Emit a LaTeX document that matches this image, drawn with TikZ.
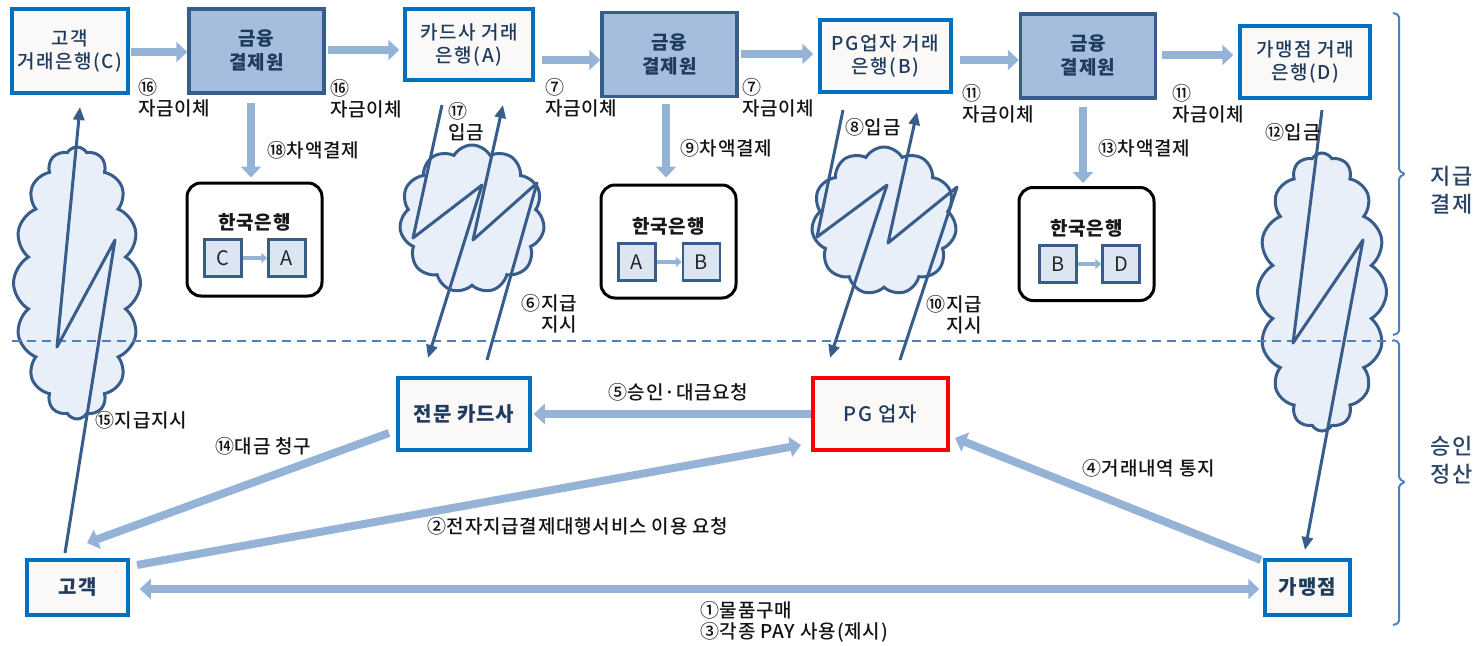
\documentclass[tikz,border=0pt]{standalone}
\usepackage{fontspec}
\setmainfont{Noto Sans CJK KR}[LetterSpace=5]
\newfontfamily\krmed{Noto Sans CJK KR Medium}[LetterSpace=8]
\newfontfamily\krlab{Noto Sans CJK KR Medium}[LetterSpace=4]
\usetikzlibrary{shapes.symbols,arrows.meta}
\definecolor{boxblue}{HTML}{0070C0}
\definecolor{boxfill}{HTML}{FBF9F7}
\definecolor{kfill}{HTML}{A5BEDD}
\definecolor{dk}{HTML}{385D8A}
\definecolor{lt}{HTML}{95B3D7}
\definecolor{cfill}{HTML}{E9EFF8}
\definecolor{sqfill}{HTML}{DCE6F2}
\definecolor{navy}{HTML}{1F3B5E}
\definecolor{dashc}{HTML}{4F81BD}
\definecolor{pgred}{HTML}{FF0000}
\definecolor{sidec}{HTML}{2A4468}
\begin{document}
\begin{tikzpicture}[x=1pt,y=-1pt,
 bank/.style={draw=boxblue,line width=3.5pt,fill=boxfill,text=navy,align=center,inner sep=0pt,font=\krmed\fontsize{19}{23}\selectfont},
 kftc/.style={draw=dk,line width=3.5pt,fill=kfill,text=navy,align=center,inner sep=0pt,font=\bfseries\fontsize{19}{24}\selectfont,minimum width=135pt,minimum height=84pt},
 bok/.style={draw=black,line width=3pt,rounded corners=14pt,fill=white,minimum width=135pt,minimum height=113pt,inner sep=0pt},
 bokt/.style={inner sep=0pt,font=\bfseries\fontsize{19}{20}\selectfont,text=black!90},
 sq/.style={draw=dk,line width=2.5pt,fill=sqfill,minimum size=37pt,inner sep=0pt,font=\fontsize{20}{20}\selectfont,text=black!85},
 fat/.style={draw=lt,line width=8pt,-{Triangle[length=11pt,width=20pt]}},
 fatboth/.style={draw=lt,line width=8pt,{Triangle[length=11pt,width=20pt]}-{Triangle[length=11pt,width=20pt]}},
 thinar/.style={draw=lt,line width=4pt,-{Triangle[length=6pt,width=10pt]}},
 bolt/.style={draw=dk,line width=3pt,line join=round,-{Triangle[length=13pt,width=11pt]}},
 cld/.style={cloud,cloud puffs=11,cloud puff arc=120,cloud ignores aspect,draw=dk,line width=3pt,fill=cfill,inner sep=0pt},
 lbl/.style={text=black!92,inner sep=0pt,font=\krlab\fontsize{19}{21}\selectfont},
]
\useasboundingbox (0,0) rectangle (1482,645);

% clouds
\node[cld,cloud puffs=16,minimum width=127pt,minimum height=272pt] (cl1) at (77,283) {};
\node[cld,minimum width=145pt,minimum height=148pt] (cl2) at (472,219) {};
\node[cld,minimum width=145pt,minimum height=148pt] (cl3) at (884,221) {};
\node[cld,cloud puffs=16,minimum width=129pt,minimum height=278pt] (cl4) at (1322,292) {};

% dashed separator
\draw[dashc,line width=2.5pt,dash pattern=on 9pt off 6pt] (12,341) -- (1393,341);

% bracket
\draw[dashc,line width=2pt,rounded corners=2pt] (1393,13) -- (1399,15) -- (1399,171) -- (1405,174) -- (1399,177) -- (1399,333) -- (1393,335);
\draw[dashc,line width=2pt,rounded corners=2pt] (1393,340) -- (1399,342) -- (1399,479) -- (1405,482) -- (1399,485) -- (1399,623) -- (1393,625);
\node[text=sidec,align=left,inner sep=0pt,font=\krmed\fontsize{22}{28}\selectfont] (side1) at (1452,190) {지급\\결제};
\node[text=sidec,align=left,inner sep=0pt,font=\krmed\fontsize{22}{28}\selectfont] (side2) at (1452,460) {승인\\정산};

% top row
\node[bank,minimum width=116pt,minimum height=84pt] (C) at (70,51) {고객\\거래은행(C)};
\node[kftc] (K1) at (256.5,51) {금융\\결제원};
\node[bank,minimum width=128pt,minimum height=71pt] (A) at (469,44.5) {카드사 거래\\은행(A)};
\node[kftc] (K2) at (669.5,54.5) {금융\\결제원};
\node[bank,minimum width=131pt,minimum height=72pt] (B) at (885.5,56) {PG업자 거래\\은행(B)};
\node[kftc] (K3) at (1088,56) {금융\\결제원};
\node[bank,minimum width=130pt,minimum height=72pt] (D) at (1305,62) {가맹점 거래\\은행(D)};

\draw[fat,shorten <=1pt] (C.east |- 0,52) -- (K1.west |- 0,52);
\draw[fat,shorten <=2pt,shorten >=4pt] (K1.east |- 0,50) -- (A.west |- 0,50);
\draw[fat,shorten <=7pt] (A.east |- 0,60) -- (K2.west |- 0,60);
\draw[fat,shorten <=2pt,shorten >=5pt] (K2.east |- 0,54) -- (B.west |- 0,54);
\draw[fat,shorten <=7pt] (B.east |- 0,60) -- (K3.west |- 0,60);
\draw[fat,shorten <=5pt,shorten >=5pt] (K3.east |- 0,55) -- (D.west |- 0,55);

\node[lbl,anchor=west,align=left] (l16a) at (138,97.5) {⑯\\자금이체};
\node[lbl,anchor=west,align=left] (l16b) at (330,98.5) {⑯\\자금이체};
\node[lbl,anchor=west,align=left] (l7a) at (545,98) {⑦\\자금이체};
\node[lbl,anchor=west,align=left] (l7b) at (742,98) {⑦\\자금이체};
\node[lbl,anchor=west,align=left] (l11a) at (962,104) {⑪\\자금이체};
\node[lbl,anchor=west,align=left] (l11b) at (1172,104) {⑪\\자금이체};

% Bank of Korea boxes
\node[bok] (BOK1) at (254.5,239.5) {};
\node[bokt] (t1) at (254.5,222) {한국은행};
\node[sq] (s1a) at (223,258) {C};
\node[sq] (s1b) at (287,258) {A};
\draw[thinar] (s1a) -- (s1b);

\node[bok] (BOK2) at (668.5,241.5) {};
\node[bokt] (t2) at (668.5,226) {한국은행};
\node[sq] (s2a) at (637,262) {A};
\node[sq] (s2b) at (701.5,262) {B};
\draw[thinar] (s2a) -- (s2b);

\node[bok] (BOK3) at (1086.5,244) {};
\node[bokt] (t3) at (1086.5,228) {한국은행};
\node[sq] (s3a) at (1058,264) {B};
\node[sq] (s3b) at (1121,264) {D};
\draw[thinar] (s3a) -- (s3b);

\draw[fat,shorten <=8pt,shorten >=4pt] (K1.south -| 251,0) -- (BOK1.north -| 251,0);
\draw[fat,shorten <=6pt,shorten >=6pt] (K2.south -| 666,0) -- (BOK2.north -| 666,0);
\draw[fat,shorten <=7pt,shorten >=3pt] (K3.south -| 1083,0) -- (BOK3.north -| 1083,0);

\node[lbl,anchor=west] (l18) at (267,150) {⑱차액결제};
\node[lbl,anchor=west] (l9) at (680,148) {⑨차액결제};
\node[lbl,anchor=west] (l13) at (1098,148) {⑬차액결제};

% bottom row
\node[bank,font=\bfseries\fontsize{20}{24}\selectfont,minimum width=132pt,minimum height=72pt] (card) at (464,414) {전문 카드사};
\node[bank,draw=pgred,font=\krmed\fontsize{20}{24}\selectfont,minimum width=135pt,minimum height=72pt] (pg) at (880.5,414) {PG 업자};
\node[bank,font=\bfseries\fontsize{20}{24}\selectfont,minimum width=101pt,minimum height=55pt] (cust) at (77.5,587.5) {고객};
\node[bank,font=\bfseries\fontsize{20}{24}\selectfont,minimum width=85pt,minimum height=55pt] (shop) at (1307.5,587.5) {가맹점};

\coordinate (c14s) at (389,433);
\coordinate (c14e) at (87,543);
\coordinate (c2s) at (137,565);
\coordinate (c2e) at (801,445);
\coordinate (c4s) at (1261,560);
\coordinate (c4e) at (955,438);

\draw[fat,shorten >=2pt] (pg.west) -- (card.east);
\draw[fat] (c14s) -- (c14e);
\draw[fat] (c2s) -- (c2e);
\draw[fat] (c4s) -- (c4e);
\draw[fatboth,shorten <=10pt,shorten >=4pt] (cust.east |- 0,589) -- (shop.west |- 0,589);

\node[lbl,anchor=west] (l5) at (608,392) {⑤승인·대금요청};
\node[lbl,anchor=west] (l14) at (215,446) {⑭대금 청구};
\node[lbl,anchor=west] (l2) at (427,526) {②전자지급결제대행서비스 이용 요청};
\node[lbl,anchor=west] (l4) at (1082,468) {④거래내역 통지};
\node[lbl,anchor=west,align=left] (l13b) at (700,622) {①물품구매\\③각종 PAY 사용(제시)};
\node[lbl,anchor=west] (l15) at (95,420) {⑮지급지시};

% lightning arrows
\coordinate (b1s) at (65,553);
\coordinate (b1e) at (80,107);
\draw[bolt] (b1s) -- (115,240) -- (57,347) -- (b1e);
\coordinate (b2s) at (442,105);
\coordinate (b2e) at (428,358);
\draw[bolt] (b2s) -- (413,238) -- (482,185) -- (b2e);
\coordinate (b3s) at (487,360);
\coordinate (b3e) at (503,105);
\draw[bolt] (b3s) -- (537,183) -- (473,240) -- (b3e);
\coordinate (b4s) at (843,110);
\coordinate (b4e) at (830,358);
\draw[bolt] (b4s) -- (817,237) -- (887,185) -- (b4e);
\coordinate (b5s) at (900,360);
\coordinate (b5e) at (917,112);
\draw[bolt] (b5s) -- (957,187) -- (888,243) -- (b5e);
\coordinate (b6s) at (1322,110);
\coordinate (b6e) at (1305,550);
\draw[bolt] (b6s) -- (1293,343) -- (1363,240) -- (b6e);

\node[lbl,anchor=west,align=left] (l17) at (448,122) {⑰\\입금};
\node[lbl,anchor=east,align=right] (l6) at (577,314) {⑥지급\\지시};
\node[lbl,anchor=west] (l8) at (845,127) {⑧입금};
\node[lbl,anchor=east,align=right] (l10) at (982,315) {⑩지급\\지시};
\node[lbl,anchor=west] (l12) at (1265,132) {⑫입금};
\end{tikzpicture}
\end{document}
